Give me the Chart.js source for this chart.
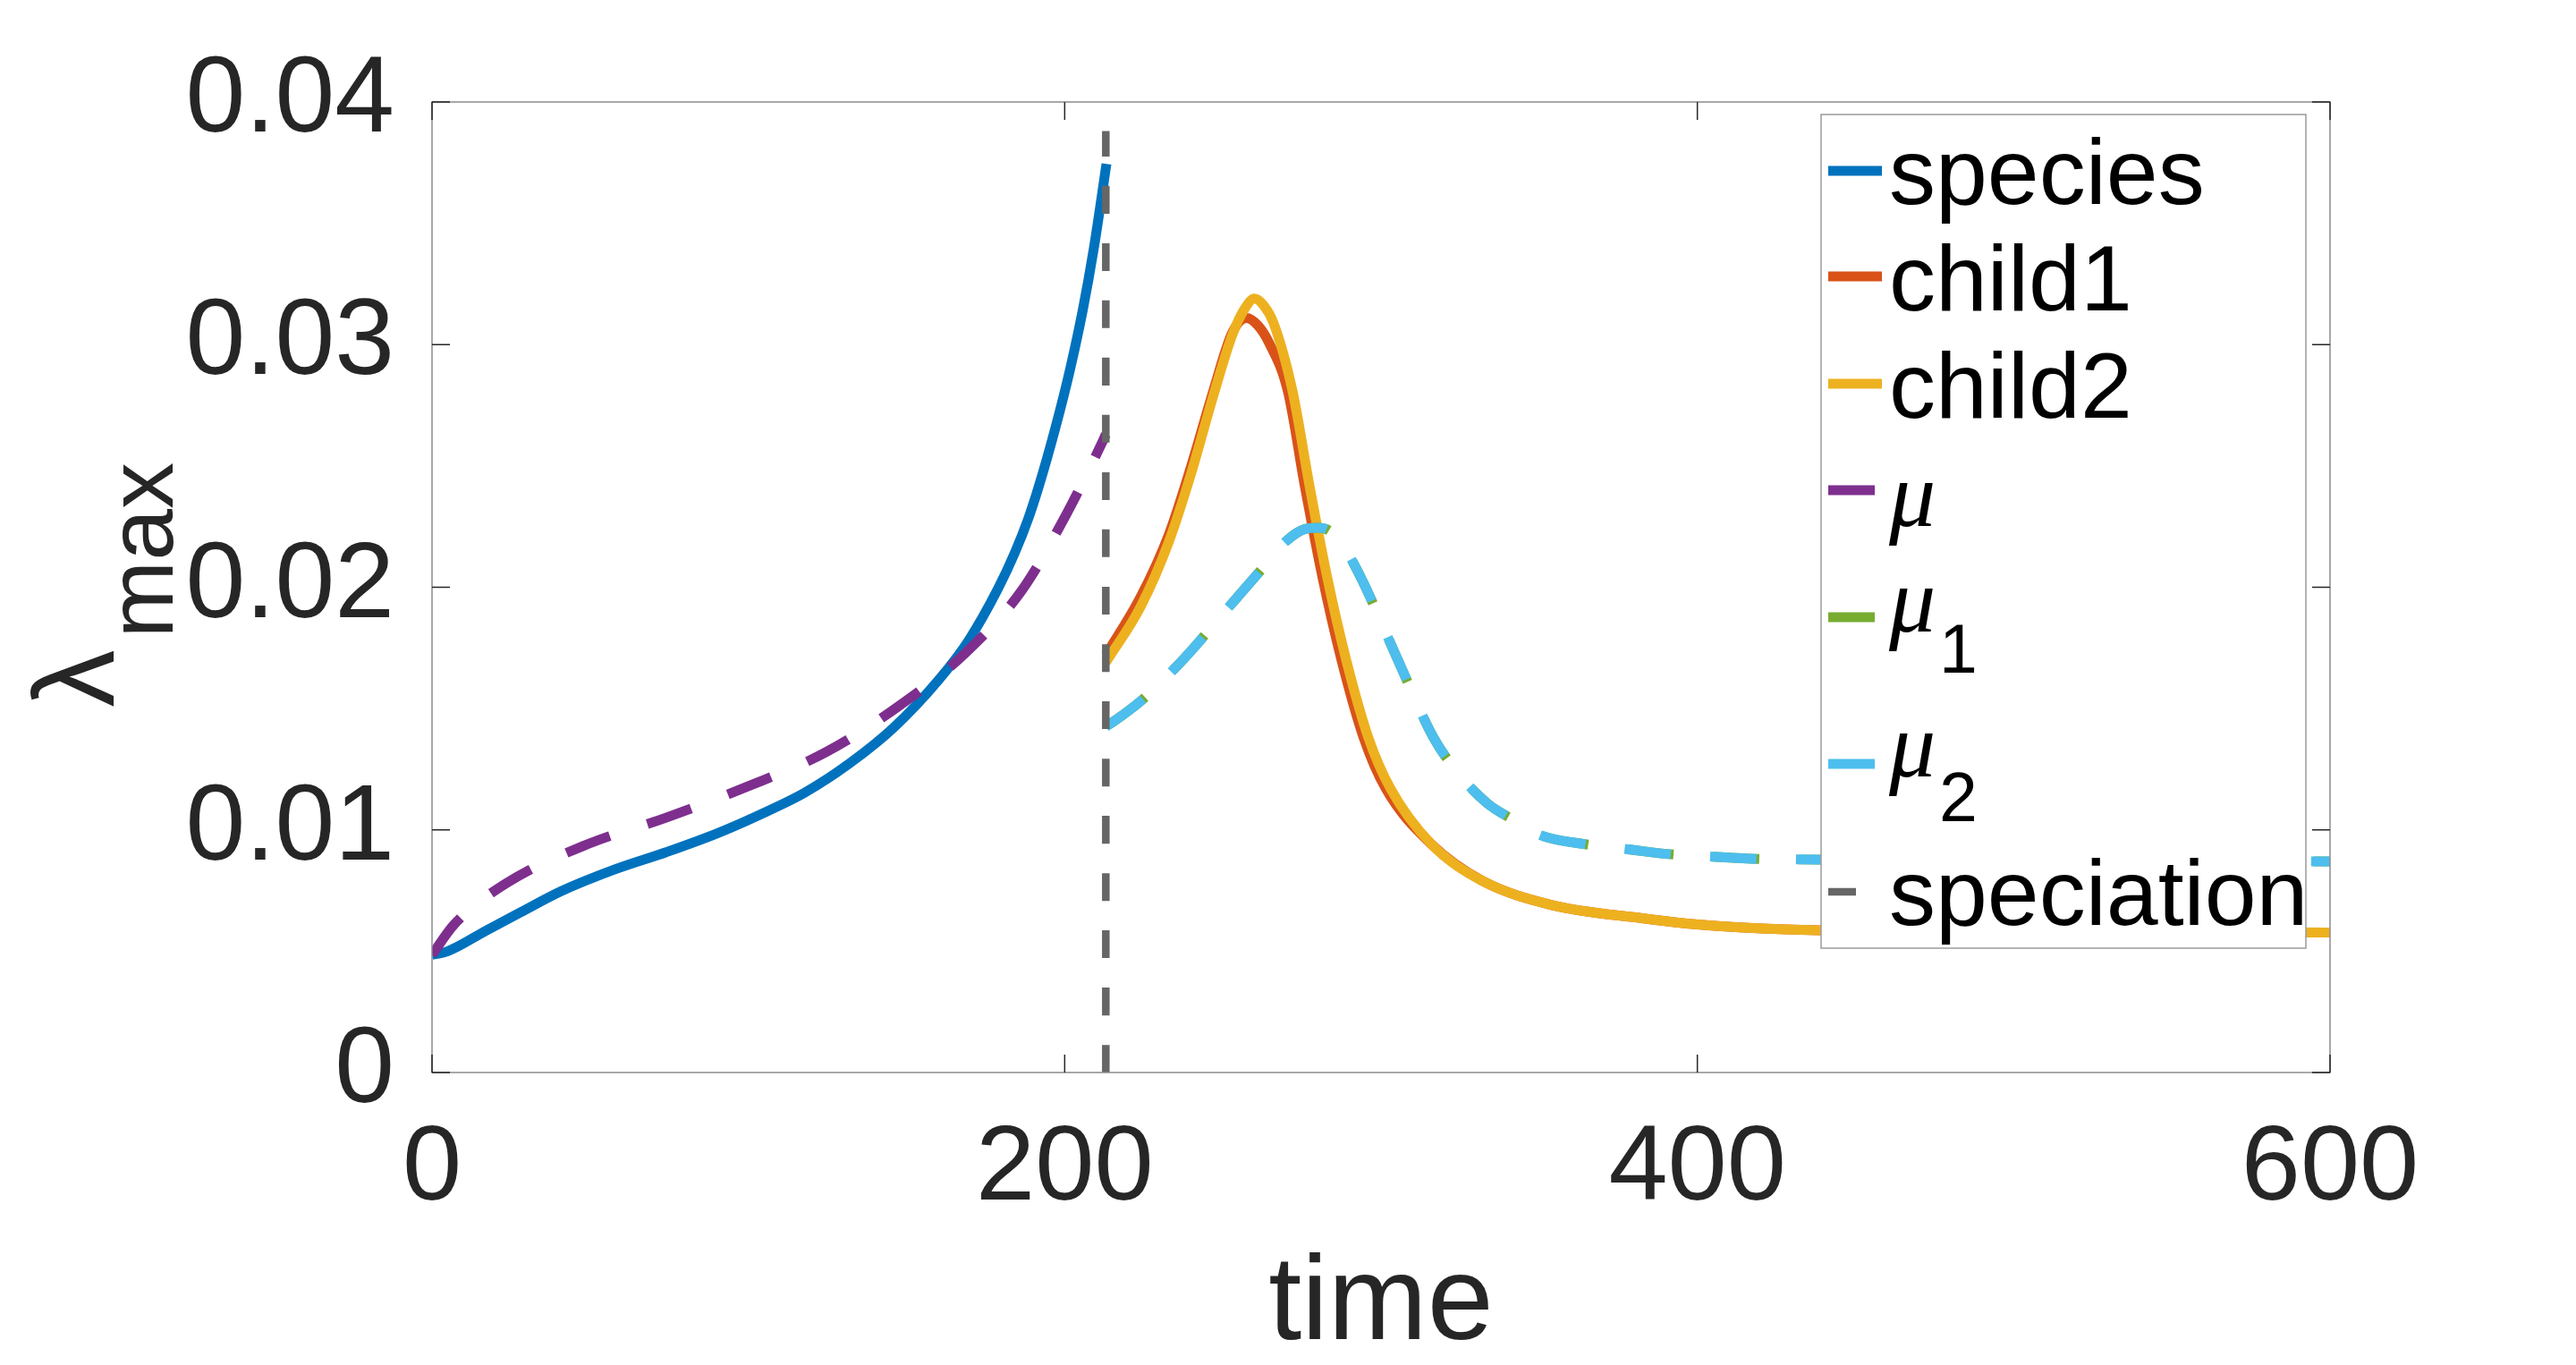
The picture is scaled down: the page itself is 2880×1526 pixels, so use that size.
<!DOCTYPE html>
<html>
<head>
<meta charset="utf-8">
<script src="https://cdn.jsdelivr.net/npm/chart.js@4.4.1/dist/chart.umd.min.js"></script>
<style>
    html, body { margin: 0; padding: 0; background: #fff; overflow: hidden; }
    canvas { display: block; }
</style>
</head>
<body>
<canvas id="lambda-chart" width="2880" height="1526"></canvas>
<script>
// values
const speciesT = [0, 5, 17, 28, 41, 58, 74, 90, 103.7, 117.9, 132, 146, 160.3, 169.7, 179, 184.3, 188.5, 191.8, 197, 201.7, 205.8, 209.2, 211.9, 213.2];
const speciesY = [0.00485, 0.0050, 0.00584, 0.0066, 0.00748, 0.00838, 0.00908, 0.00985, 0.01063, 0.01154, 0.01274, 0.01422, 0.0162, 0.01782, 0.01996, 0.02144, 0.02283, 0.02415, 0.02654, 0.02898, 0.03148, 0.03396, 0.03628, 0.03745];

const child1T = [213, 224, 233, 240, 247, 253, 257.5, 261, 264.5, 270.5, 276, 281.5, 287.5, 294.5, 301.5, 316, 332, 354, 383, 400, 428, 500, 600];
const child1Y = [0.0172, 0.0196, 0.0222, 0.0250, 0.0281, 0.0305, 0.0311, 0.0308, 0.0301, 0.0281, 0.0241, 0.0204, 0.0170, 0.0138, 0.0117, 0.0094, 0.0079, 0.0069, 0.00635, 0.0061, 0.0059, 0.0058, 0.00577];

const child2T = [213, 224, 233, 240, 247, 253, 257, 260, 263, 266, 272, 277.5, 283, 289, 296, 303, 316, 332, 354, 383, 400, 428, 500, 600];
const child2Y = [0.0169, 0.0192, 0.0219, 0.0247, 0.0279, 0.0304, 0.0315, 0.0319, 0.0316, 0.0309, 0.0281, 0.0241, 0.0204, 0.0170, 0.0138, 0.0117, 0.0094, 0.0079, 0.0069, 0.00635, 0.0061, 0.0059, 0.0058, 0.00577];

const muT = [0, 7, 23.5, 49, 74, 100, 124.5, 147.5, 168.7, 186.6, 200.5, 211.6, 213];
const muY = [0.00485, 0.0061, 0.0078, 0.0094, 0.0105, 0.0118, 0.0132, 0.0151, 0.0173, 0.0199, 0.0230, 0.0259, 0.0263];

const mu1T = [213, 218, 224, 238, 250, 256, 262, 270, 276, 280, 284, 289, 294, 305, 316.6, 324, 333.5, 342, 350, 365, 378, 391, 404, 419, 431, 500, 600];
const mu1Y = [0.01425, 0.0147, 0.0153, 0.0171, 0.0189, 0.0198, 0.0207, 0.0219, 0.0224, 0.02245, 0.0223, 0.0215, 0.0203, 0.0171, 0.0138, 0.0124, 0.0111, 0.0104, 0.0098, 0.0094, 0.0092, 0.0090, 0.0089, 0.0088, 0.00878, 0.00873, 0.0087];

const mu2T = [213, 218, 224, 238, 250, 256, 262, 270, 276, 280, 284, 289, 294, 305, 316.6, 324, 333.5, 342, 350, 365, 378, 391, 404, 419, 431, 500, 600];
const mu2Y = [0.01425, 0.0147, 0.0153, 0.0171, 0.0189, 0.0198, 0.0207, 0.0219, 0.0224, 0.02245, 0.0223, 0.0215, 0.0203, 0.0171, 0.0138, 0.0124, 0.0111, 0.0104, 0.0098, 0.0094, 0.0092, 0.0090, 0.0089, 0.0088, 0.00878, 0.00873, 0.0087];

const speciationT = [213, 213];
const speciationY = [0, 0.0388];

const labels = ['species', 'child1', 'child2', 'μ', 'μ1', 'μ2', 'speciation'];
const xTicks = [0, 200, 400, 600];
const yTicks = [0, 0.01, 0.02, 0.03, 0.04];

const FONT = "'Liberation Sans', Arial, Helvetica, sans-serif";
const TEXT = '#262626';

function toPoints(t, y) {
    return t.map((x, i) => ({ x: x, y: y[i] }));
}

function line(label, t, y, color, width, dash, order) {
    return {
        label: label,
        data: toPoints(t, y),
        borderColor: color,
        backgroundColor: color,
        borderWidth: width,
        borderDash: dash,
        borderCapStyle: 'butt',
        pointRadius: 0,
        fill: false,
        cubicInterpolationMode: 'monotone',
        order: order
    };
}

const DASH = [52, 44];

const datasets = [
    line(labels[0], speciesT, speciesY, '#0072BD', 11, [], 7),
    line(labels[1], child1T, child1Y, '#D95319', 11, [], 6),
    line(labels[2], child2T, child2Y, '#EDB120', 11, [], 5),
    line(labels[3], muT, muY, '#7E2F8E', 11, DASH, 4),
    line(labels[4], mu1T, mu1Y, '#77AC30', 11, DASH, 3),
    line(labels[5], mu2T, mu2Y, '#4DBEEE', 11, DASH, 2),
    line(labels[6], speciationT, speciationY, '#666666', 8.5, [31, 33], 1)
];
datasets[4].borderDashOffset = -3;

// box, inward ticks, axis titles
const framePlugin = {
    id: 'frame',
    afterDraw(chart) {
        const ctx = chart.ctx;
        const a = chart.chartArea;
        const xs = chart.scales.x;
        const ys = chart.scales.y;
        ctx.save();
        ctx.strokeStyle = '#8c8c8c';
        ctx.lineWidth = 1.5;
        ctx.strokeRect(a.left, a.top, a.right - a.left, a.bottom - a.top);

        ctx.strokeStyle = TEXT;
        ctx.lineWidth = 1.5;
        const tl = 20;
        ctx.beginPath();
        xTicks.forEach(v => {
            const px = xs.getPixelForValue(v);
            ctx.moveTo(px, a.bottom); ctx.lineTo(px, a.bottom - tl);
            ctx.moveTo(px, a.top); ctx.lineTo(px, a.top + tl);
        });
        yTicks.forEach(v => {
            const py = ys.getPixelForValue(v);
            ctx.moveTo(a.left, py); ctx.lineTo(a.left + tl, py);
            ctx.moveTo(a.right, py); ctx.lineTo(a.right - tl, py);
        });
        ctx.stroke();

        // x title
        ctx.fillStyle = TEXT;
        ctx.font = '133px ' + FONT;
        ctx.textAlign = 'center';
        ctx.textBaseline = 'alphabetic';
        ctx.fillText('time', (a.left + a.right) / 2, 1497);

        // y title: lambda with subscript "max"
        const cy = (a.top + a.bottom) / 2;
        ctx.translate(0, cy);
        ctx.rotate(-Math.PI / 2);
        ctx.textAlign = 'left';
        ctx.font = '128px ' + FONT;
        ctx.fillText('λ', -134, 127);
        ctx.font = '104px ' + FONT;
        ctx.fillText('max', -57, 193);
        ctx.restore();
    }
};

// MATLAB-style legend box in the upper right
const legendPlugin = {
    id: 'boxLegend',
    afterDraw(chart) {
        const ctx = chart.ctx;
        const bx = 2036, by = 128, bw = 542, bh = 932;
        const rows = [
            { line: 191, base: 228 },
            { line: 309, base: 347 },
            { line: 429, base: 467 },
            { line: 548, base: 588 },
            { line: 690, base: 706, sub: 752 },
            { line: 854, base: 868, sub: 918 },
            { line: 997, base: 1034 }
        ];
        ctx.save();
        ctx.fillStyle = '#ffffff';
        ctx.fillRect(bx, by, bw, bh);
        ctx.strokeStyle = '#9a9a9a';
        ctx.lineWidth = 1.5;
        ctx.strokeRect(bx, by, bw, bh);

        chart.data.datasets.forEach((ds, i) => {
            const r = rows[i];
            ctx.save();
            ctx.beginPath();
            ctx.rect(bx + 8, r.line - 10, 60, 20);
            ctx.clip();
            ctx.strokeStyle = ds.borderColor;
            ctx.lineWidth = ds.borderWidth;
            ctx.setLineDash(ds.borderDash);
            ctx.lineCap = 'butt';
            ctx.beginPath();
            ctx.moveTo(bx + 8, r.line);
            ctx.lineTo(bx + 68, r.line);
            ctx.stroke();
            ctx.restore();

            ctx.fillStyle = '#000';
            ctx.textAlign = 'left';
            ctx.textBaseline = 'alphabetic';
            const lbl = ds.label;
            if (lbl.startsWith('μ')) {
                ctx.font = "italic 104px 'Liberation Serif', 'DejaVu Serif', serif";
                ctx.fillText('μ', 2112, r.base);
                if (lbl.length > 1) {
                    ctx.font = '77px ' + FONT;
                    ctx.fillText(lbl.slice(1), 2168, r.sub);
                }
            } else {
                ctx.font = '104px ' + FONT;
                ctx.fillText(lbl, 2112, r.base);
            }
        });
        ctx.restore();
    }
};

const chart = new Chart(document.getElementById('lambda-chart'), {
    type: 'line',
    data: { datasets: datasets },
    options: {
        responsive: false,
        devicePixelRatio: 1,
        animation: false,
        layout: {
            padding: { left: 0, top: 114, right: 275, bottom: 0 }
        },
        plugins: {
            legend: { display: false },
            tooltip: { enabled: false }
        },
        scales: {
            x: {
                type: 'linear',
                min: 0,
                max: 600,
                afterBuildTicks: s => { s.ticks = xTicks.map(v => ({ value: v })); },
                afterFit: s => { s.height = 327; },
                grid: { display: false },
                border: { display: false },
                ticks: {
                    color: TEXT,
                    padding: 30,
                    maxRotation: 0,
                    font: { size: 119, family: FONT }
                }
            },
            y: {
                type: 'linear',
                min: 0,
                max: 0.04,
                afterBuildTicks: s => { s.ticks = yTicks.map(v => ({ value: v })); },
                afterFit: s => { s.width = 483; },
                grid: { display: false },
                border: { display: false },
                ticks: {
                    color: TEXT,
                    padding: 34,
                    font: { size: 120, family: FONT },
                    callback: v => (v === 0 ? '0' : v.toFixed(2))
                }
            }
        }
    },
    plugins: [framePlugin, legendPlugin]
});
</script>
</body>
</html>
